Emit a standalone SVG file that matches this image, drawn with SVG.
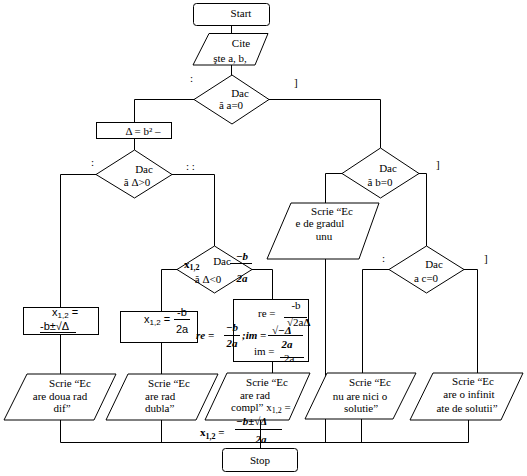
<svg xmlns="http://www.w3.org/2000/svg" width="527" height="476" viewBox="0 0 527 476" font-family="'Liberation Serif', 'Times New Roman', serif">
<style>
.s{fill:#fff;stroke:#000;stroke-width:1}
.c{fill:none;stroke:#000;stroke-width:1}
text{font-family:"Liberation Serif","Times New Roman",serif;font-size:11px;fill:#000}
.m{text-anchor:middle}
.sa{font-family:"Liberation Sans",Arial,sans-serif}
.b{font-weight:bold;font-style:italic}
.bb{font-weight:bold}
.sub{font-size:8px}
</style>
<rect width="527" height="476" fill="#fff"/>
<g id="connectors">
<path class="c" d="M231.5 25V33.5M231.5 65V75M194 99.5H134.5V123M134.5 138V150M96 174.5H60.5V307M60.5 334V374M172 174.5H214.5V246M269 99.5H380.5V148M342 173.5H325.5V203M325.5 259V442M419 173.5H426.5V246M389 269.5H362.5V373M464 269.5H477.5V373M177 269.5H161.5V311M161.5 342V374M252 269.5H272.5V299M272.5 362V373M60.5 420V442.5H468.5V420M161.5 420V442M361.5 419V442M260.5 420V448"/>
</g>
<g id="start">
<rect class="s" x="193.5" y="3.5" width="76" height="22" rx="3"/>
<text class="m" x="241" y="17">Start</text>
</g>
<g id="read">
<polygon class="s" points="209,33.5 268,33.5 255,65 193,65"/>
<text class="m" x="241" y="47">Cite</text>
<text class="m" x="230" y="62">şte a, b,</text>
</g>
<g id="dec-a">
<polygon class="s" points="232,75 269,99.5 232,124 194,99.5"/>
<text class="m" x="240" y="97">Dac</text>
<text class="m" x="231" y="109">ă a=0</text>
</g>
<g id="delta">
<rect class="s" x="96.5" y="122.5" width="75" height="16"/>
<text class="m" x="143" y="135">Δ = b² –</text>
</g>
<g id="dec-d0">
<polygon class="s" points="134.5,150 172,174.5 134.5,198 96,174.5"/>
<text class="m" x="144" y="173">Dac</text>
<text class="m" x="137" y="186">ă Δ&gt;0</text>
</g>
<g id="dec-b">
<polygon class="s" points="380.5,148 419,173.5 380.5,198 342,173.5"/>
<text class="m" x="388" y="172">Dac</text>
<text class="m" x="380" y="186">ă b=0</text>
</g>
<g id="write-unu">
<polygon class="s" points="291,203 379,203 359,259 267,259"/>
<text class="m" x="332" y="215">Scrie “Ec</text>
<text class="m" x="320" y="227">e de gradul</text>
<text class="m" x="324" y="240">unu</text>
</g>
<g id="dec-c">
<polygon class="s" points="426.5,246 464,269.5 426.5,293 389,269.5"/>
<text class="m" x="434" y="268">Dac</text>
<text class="m" x="426" y="282">a c=0</text>
</g>
<g id="dec-dneg">
<polygon class="s" points="214.5,246 252,269.5 214.5,293 177,269.5"/>
<text class="m" x="222" y="265">Dac</text>
<text class="m" x="208" y="283">ă Δ&lt;0</text>
<text class="bb" x="184" y="268" font-size="13">x<tspan class="sub" dy="2">1,2</tspan></text>
<text class="b m" x="242" y="260" font-size="12">−b</text>
<line class="c" x1="230" y1="263.5" x2="252" y2="263.5"/>
<text class="b m" x="242" y="282" font-size="12">2a</text>
</g>
<g id="box-x12">
<rect class="s" x="23.5" y="307.5" width="75" height="27"/>
<text class="sa" x="52" y="316" font-size="10">x<tspan class="sub" dy="2">1,2</tspan><tspan dy="-2"> =</tspan></text>
<text class="sa" x="40" y="330" font-size="10">-b±√Δ</text>
<line class="c" x1="40" y1="332.5" x2="76" y2="332.5"/>
</g>
<g id="box-x12dbl">
<rect class="s" x="120.5" y="311.5" width="77" height="31"/>
<text class="sa" x="144" y="323" font-size="10">x<tspan class="sub" dy="2">1,2</tspan><tspan dy="-2"> =</tspan></text>
<text class="sa m" x="182" y="316" font-size="10">-b</text>
<line class="c" x1="174" y1="319.5" x2="190" y2="319.5"/>
<text class="sa m" x="182" y="333" font-size="10">2a</text>
</g>
<g id="box-reim">
<rect class="s" x="233.5" y="299.5" width="75" height="62"/>
<text x="258" y="317">re =</text>
<text class="m" x="296" y="309">-b</text>
<line class="c" x1="284" y1="317.5" x2="307" y2="317.5"/>
<text x="287" y="326" font-size="10">√2a<tspan class="bb">Δ</tspan></text>
<text x="254" y="355">im =</text>
<line class="c" x1="280" y1="357.5" x2="304" y2="357.5"/>
<text x="284" y="362" font-size="8">2a</text>
<text class="b" x="196" y="339" font-size="12">re =</text>
<text class="b m" x="232" y="331" font-size="12">−b</text>
<line class="c" x1="224" y1="335.5" x2="240" y2="335.5"/>
<text class="b m" x="232" y="347" font-size="12">2a</text>
<text class="b" x="242" y="339" font-size="12">;im =</text>
<text class="b" x="272" y="334" font-size="10">√−Δ</text>
<line class="c" x1="268" y1="335.5" x2="303" y2="335.5"/>
<text class="b m" x="287" y="348" font-size="12">2a</text>
</g>
<g id="write-dif">
<polygon class="s" points="27,374 116,374 94,420 4,420"/>
<text class="m" x="70" y="387">Scrie “Ec</text>
<text class="m" x="60" y="400">are doua rad</text>
<text class="m" x="62" y="412">dif”</text>
</g>
<g id="write-dubla">
<polygon class="s" points="128,374 218,374 196,420 106,420"/>
<text class="m" x="169" y="387">Scrie “Ec</text>
<text x="145" y="400">are rad</text>
<text x="145" y="412">dubla”</text>
</g>
<g id="write-compl">
<polygon class="s" points="227,373 310,373 289,420 205,420"/>
<text class="m" x="267" y="386">Scrie “Ec</text>
<text class="m" x="255" y="399">are rad</text>
<text x="231" y="411">compl” x<tspan class="sub" dy="2">1,2</tspan><tspan dy="-2"> =</tspan></text>
<text class="bb" x="200" y="436" font-size="13">x<tspan class="sub" dy="3">1,2</tspan><tspan dy="-3"> =</tspan></text>
<text class="b" x="236" y="425" font-size="12">−b±√Δ</text>
<line class="c" x1="235" y1="429.5" x2="282" y2="429.5"/>
<text class="b m" x="261" y="443" font-size="12">2a</text>
</g>
<g id="write-nici">
<polygon class="s" points="327,373 416,373 393,419 305,419"/>
<text class="m" x="370" y="386">Scrie “Ec</text>
<text class="m" x="360" y="400">nu are nici o</text>
<text class="m" x="361" y="412">solutie”</text>
</g>
<g id="write-infinit">
<polygon class="s" points="433,373 523,373 501,420 410,420"/>
<text class="m" x="473" y="385">Scrie “Ec</text>
<text class="m" x="469" y="398">are o infinit</text>
<text class="m" x="467" y="412">ate de solutii”</text>
</g>
<g id="stop">
<rect class="s" x="222.5" y="448.5" width="75" height="23" rx="3"/>
<text class="m" x="260" y="464">Stop</text>
</g>
<g id="marks" font-size="9">
<text x="190" y="82">:</text>
<text x="294" y="86">]</text>
<text x="91" y="166">:</text>
<text x="186" y="170">: :</text>
<text x="436" y="168">]</text>
<text x="382" y="262">:</text>
<text x="484" y="262">]</text>
</g>
</svg>
